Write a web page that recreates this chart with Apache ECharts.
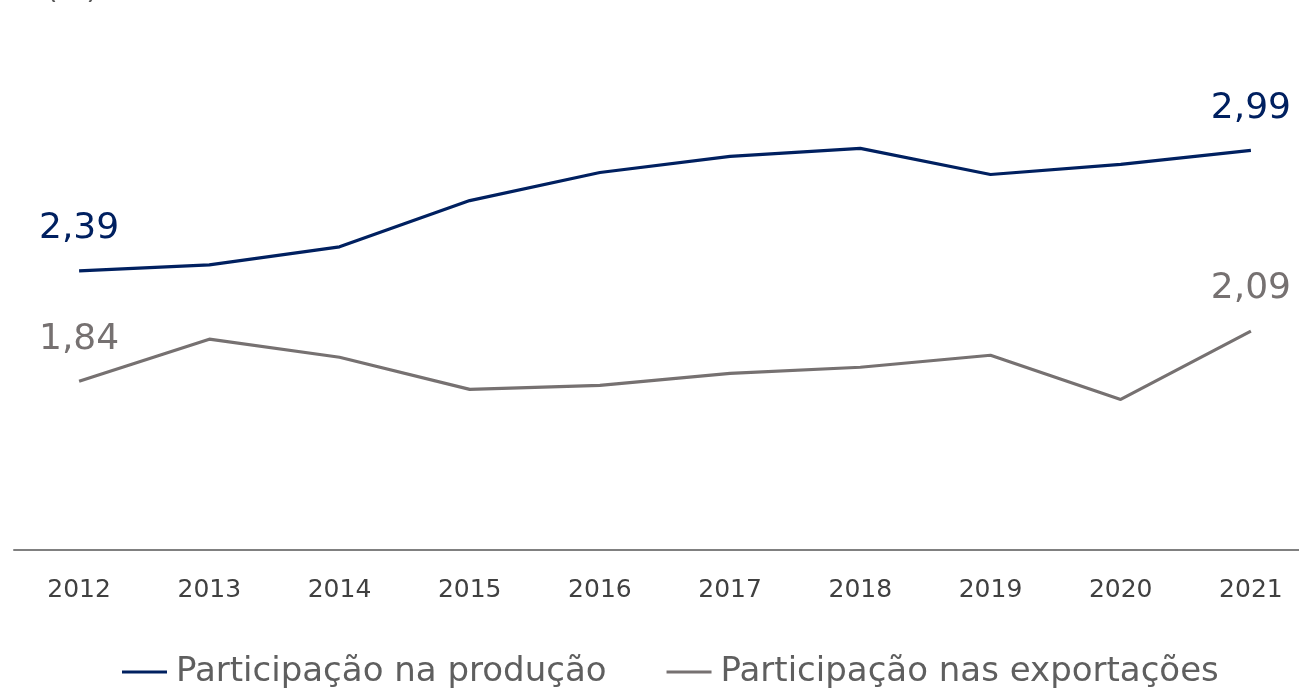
<!DOCTYPE html>
<html><head><meta charset="utf-8">
<script src="https://cdn.jsdelivr.net/npm/echarts@6/dist/echarts.min.js"></script>
<style>html,body{margin:0;padding:0;background:#fff}#c{width:1299px;height:689px}</style>
</head><body><div id="c"></div>
<script>
const years = ['2012','2013','2014','2015','2016','2017','2018','2019','2020','2021'];
const producao = [2.39, 2.42, 2.51, 2.74, 2.88, 2.96, 3.00, 2.87, 2.92, 2.99];
const exportacoes = [1.84, 2.05, 1.96, 1.80, 1.82, 1.88, 1.91, 1.97, 1.75, 2.09];
const seriesNames = ['Participação na produção', 'Participação nas exportações'];

const FONT = '"DejaVu Sans"';
function withEndLabels(arr, color) {
  return arr.map((v, i) => (i === 0 || i === arr.length - 1) ? {
    value: v,
    label: { show: true, position: 'top', distance: 24, color: color, fontSize: 36, fontFamily: FONT,
      formatter: p => Number(p.value).toFixed(2).replace('.', ',') }
  } : v);
}
const chart = echarts.init(document.getElementById('c'));
chart.setOption({
  animation: false,
  graphic: [{ type: 'text', left: 46, top: -25, style: { text: '(%)', fontSize: 30, fontFamily: FONT, fill: '#595959' } }],
  legend: {
    top: 650, left: 117, itemWidth: 45, itemHeight: 3, itemGap: 60,
    icon: 'rect',
    textStyle: { fontSize: 34, fontFamily: FONT, color: '#5f5f5f', padding: [0, 0, 0, 4] },
    data: seriesNames
  },
  grid: { left: 14, width: 1302, top: 48, height: 502, outerBoundsMode: 'none', containLabel: false },
  xAxis: {
    type: 'category', data: years, boundaryGap: true,
    axisLine: { lineStyle: { color: '#808080', width: 2 } },
    axisTick: { show: false },
    axisLabel: { fontSize: 25, fontFamily: FONT, color: '#404040', margin: 28 }
  },
  yAxis: { type: 'value', min: 1, max: 3.5, show: false, splitLine: { show: false } },
  series: [
    { name: seriesNames[0], type: 'line', data: withEndLabels(producao, '#002060'),
      symbol: 'circle', symbolSize: 0, showSymbol: true,
      lineStyle: { color: '#002060', width: 3.2 }, itemStyle: { color: '#002060' } },
    { name: seriesNames[1], type: 'line', data: withEndLabels(exportacoes, '#767171'),
      symbol: 'circle', symbolSize: 0, showSymbol: true,
      lineStyle: { color: '#767171', width: 3.2 }, itemStyle: { color: '#767171' } }
  ]
});
</script></body></html>
